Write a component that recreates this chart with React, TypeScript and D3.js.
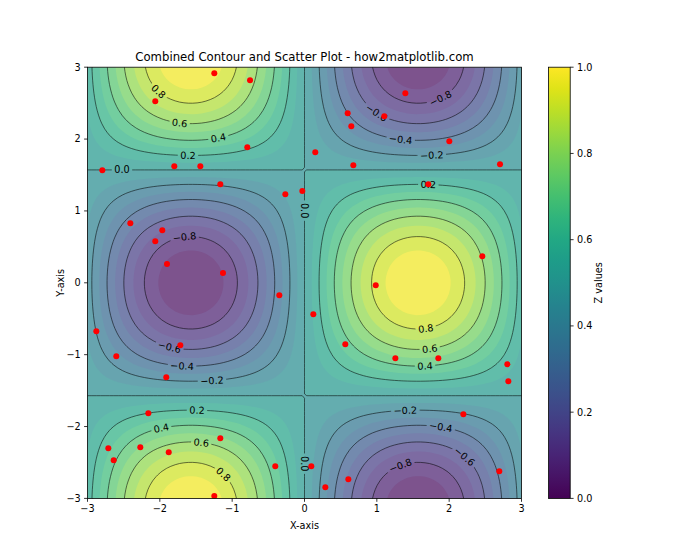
import React from 'react';
import * as d3 from 'd3';

const W = 700;
const H = 560;
const FONT = '"DejaVu Sans", sans-serif';

// axes box (matplotlib default subplot + colorbar)
const L = 87.5, R = 521.5, T = 67.2, B = 498.4;
const CB_X = 548.6, CB_W = 21.6;

const xTicks = [-3, -2, -1, 0, 1, 2, 3];
const yTicks = [-3, -2, -1, 0, 1, 2, 3];
const cbTicks = [0, 0.2, 0.4, 0.6, 0.8, 1.0];

// contourf levels (20 bands) and contour line levels
const fillLevels = [-1.0, -0.9, -0.8, -0.7, -0.6, -0.5, -0.4, -0.3, -0.2, -0.1, 0.0,
  0.1, 0.2, 0.3, 0.4, 0.5, 0.6, 0.7, 0.8, 0.9, 1.0];
const lineLevels = [-0.8, -0.6, -0.4, -0.2, 0.0, 0.2, 0.4, 0.6, 0.8];

// scatter points
const pointX = [-1.247, -0.753, -2.063, -0.791, -2.795, -1.800, -1.440, -1.164, -0.265, -0.030,
  -2.408, -1.966, -2.063, -1.901, -1.127, 1.394, 0.597, 1.103, 0.647, 2.002,
  0.149, 0.675, 2.703, 1.712, 2.458, -0.348, -2.878, -1.717, -2.602, -1.911,
  -2.159, -2.712, -2.270, -1.164, -2.638, -1.877, -0.404, -1.247, 0.985, 0.122,
  0.564, 1.256, 1.850, 2.804, 2.818, 2.196, 0.094, 2.693, 0.606, 0.288];
const pointY = [2.915, 2.818, 2.526, 1.885, 1.565, 1.621, 1.621, 1.371, 1.232, 1.277,
  0.828, 0.731, 0.578, 0.262, 0.136, 2.637, 2.359, 2.317, 2.178, 1.969,
  1.816, 1.635, 1.649, 1.371, 0.369, -0.174, -0.675, -0.870, -1.023, -1.315,
  -1.816, -2.303, -2.289, -2.164, -2.470, -2.358, -2.553, -2.966, -0.035, -0.438,
  -0.856, -1.050, -1.050, -1.134, -1.370, -1.830, -2.553, -2.623, -2.734, -2.845];

// contour label positions
const labelLevel = [0.8, 0.6, 0.4, 0.2, 0.0, -0.8, -0.8, -0.6, -0.4, -0.2, 0.2, 0.0,
  -0.6, -0.4, -0.2, 0.2, 0.4, 0.6, 0.8, 0.8, 0.6, 0.4, -0.2, -0.4, -0.6, -0.8, 0.0];
const labelX = [-2.011, -1.725, -1.192, -1.611, -2.523, -1.662, 1.874, 0.998, 1.330, 1.759, 1.712, 0.031,
  -1.864, -1.693, -1.279, -1.486, -1.984, -1.427, -1.109, 1.676, 1.731, 1.666, 1.394, 1.887, 2.229, 1.320, 0.021];
const labelY = [2.673, 2.238, 2.025, 1.783, 1.588, 0.655, 2.581, 2.372, 2.001, 1.783, 1.379, 1.003,
  -0.879, -1.153, -1.352, -1.756, -2.002, -2.219, -2.651, -0.633, -0.911, -1.153, -1.760, -1.992, -2.396, -2.525, -2.517];

const surface = (x: number, y: number) => Math.sin(x) * Math.cos(y);

const N = 100;
const step = 6 / (N - 1);
const grid: number[] = [];
for (let j = 0; j < N; j++) {
  for (let i = 0; i < N; i++) grid.push(surface(-3 + i * step, -3 + j * step));
}

const xScale = d3.scaleLinear().domain([-3, 3]).range([L, R]);
const yScale = d3.scaleLinear().domain([-3, 3]).range([B, T]);

const fmt = (v: number, d: number) => (v < 0 ? '\u2212' : '') + Math.abs(v).toFixed(d);

function polyPath(geom: d3.ContourMultiPolygon) {
  let s = '';
  geom.coordinates.forEach(poly => poly.forEach(ring => {
    ring.forEach((p, k) => {
      const px = xScale(-3 + (p[0] - 0.5) * step);
      const py = yScale(-3 + (p[1] - 0.5) * step);
      s += (k ? 'L' : 'M') + px.toFixed(2) + ',' + py.toFixed(2);
    });
    s += 'Z';
  }));
  return s;
}

function snap(level: number, x: number, y: number) {
  for (let k = 0; k < 6; k++) {
    const z = surface(x, y);
    const gx = Math.cos(x) * Math.cos(y);
    const gy = -Math.sin(x) * Math.sin(y);
    const g2 = gx * gx + gy * gy;
    if (g2 < 1e-9) break;
    const t = (level - z) / g2;
    x += t * gx;
    y += t * gy;
  }
  const gx = Math.cos(x) * Math.cos(y);
  const gy = -Math.sin(x) * Math.sin(y);
  const sx = (R - L) / 6, sy = (B - T) / 6;
  let a = Math.atan2(-gx * sy, -gy * sx) * 180 / Math.PI;
  while (a > 90) a -= 180;
  while (a <= -90) a += 180;
  return { x: xScale(x), y: yScale(y), a };
}

const textWidth = (s: string, size: number) =>
  s.split('').reduce((w, c) => w + (c === '.' ? 0.318 : c === '\u2212' ? 0.838 : 0.636), 0) * size;

export default function App() {
  const fillGen = d3.contours().size([N, N]).thresholds(fillLevels.slice(0, -1));
  const fills = fillGen(grid);
  const lineGen = d3.contours().size([N, N]).thresholds(lineLevels);
  const lines = lineGen(grid);

  const labels = labelLevel.map((lv, i) => {
    const p = snap(lv, labelX[i], labelY[i]);
    const text = fmt(lv, 1);
    return { ...p, text, w: textWidth(text, 9.7) };
  });

  const cbScale = d3.scaleLinear().domain([0, 1]).range([B, T]);
  const stops = d3.range(0, 1.0001, 0.05);

  return (
    <svg width={W} height={H}
      style={{ position: 'absolute', left: 0, top: 0, display: 'block', fontFamily: FONT }}>
      <defs>
        <clipPath id="plotClip">
          <rect x={L} y={T} width={R - L} height={B - T} />
        </clipPath>
        <mask id="labelMask" maskUnits="userSpaceOnUse" x={0} y={0} width={W} height={H}>
          <rect x={0} y={0} width={W} height={H} fill="white" />
          {labels.map((l, i) => (
            <rect key={i} x={-l.w / 2 - 2.5} y={-5} width={l.w + 5} height={10} fill="black"
              transform={`translate(${l.x},${l.y}) rotate(${l.a})`} />
          ))}
        </mask>
        <linearGradient id="viridis" x1="0" y1="1" x2="0" y2="0">
          {stops.map((t, i) => (
            <stop key={i} offset={t} stopColor={d3.interpolateViridis(t)} />
          ))}
        </linearGradient>
      </defs>
      <rect x={0} y={0} width={W} height={H} fill="white" />

      <g clipPath="url(#plotClip)">
        <g opacity={0.7}>
          {fills.map((c, k) => (
            <path key={k} d={polyPath(c)} fillRule="evenodd"
              fill={d3.interpolateViridis(((fillLevels[k] + fillLevels[k + 1]) / 2 + 1) / 2)} />
          ))}
        </g>
        <g mask="url(#labelMask)" fill="none" stroke="black" strokeWidth={0.6} strokeOpacity={0.9}>
          {lines.map((c, k) => <path key={k} d={polyPath(c)} />)}
        </g>
        {labels.map((l, i) => (
          <text key={i} x={0} y={0} fontSize={9.7} textAnchor="middle" dominantBaseline="central"
            transform={`translate(${l.x},${l.y}) rotate(${l.a})`}>{l.text}</text>
        ))}
        {pointX.map((x, i) => (
          <circle key={i} cx={xScale(x)} cy={yScale(pointY[i])} r={3} fill="red" />
        ))}
      </g>

      <rect x={L} y={T} width={R - L} height={B - T} fill="none" stroke="black" strokeWidth={0.8} />

      {xTicks.map(t => (
        <g key={t} transform={`translate(${xScale(t)},${B})`}>
          <line y2={3.4} stroke="black" strokeWidth={0.8} />
          <text y={13.5} fontSize={9.7} textAnchor="middle">{fmt(t, 0)}</text>
        </g>
      ))}
      {yTicks.map(t => (
        <g key={t} transform={`translate(${L},${yScale(t)})`}>
          <line x2={-3.4} stroke="black" strokeWidth={0.8} />
          <text x={-6.8} fontSize={9.7} textAnchor="end" dy="0.35em">{fmt(t, 0)}</text>
        </g>
      ))}

      <text x={(L + R) / 2} y={61.4} fontSize={11.7} textAnchor="middle">
        Combined Contour and Scatter Plot - how2matplotlib.com
      </text>
      <text x={(L + R) / 2} y={529} fontSize={9.7} textAnchor="middle">X-axis</text>
      <text transform={`translate(63.5,${(T + B) / 2}) rotate(-90)`} fontSize={9.7} textAnchor="middle">Y-axis</text>

      <rect x={CB_X} y={T} width={CB_W} height={B - T} fill="url(#viridis)" stroke="black" strokeWidth={0.8} />
      {cbTicks.map(t => (
        <g key={t} transform={`translate(${CB_X + CB_W},${cbScale(t)})`}>
          <line x2={3.4} stroke="black" strokeWidth={0.8} />
          <text x={6.8} fontSize={9.7} dy="0.35em">{t.toFixed(1)}</text>
        </g>
      ))}
      <text transform={`translate(601.5,${(T + B) / 2}) rotate(-90)`} fontSize={9.7} textAnchor="middle">Z values</text>
    </svg>
  );
}
